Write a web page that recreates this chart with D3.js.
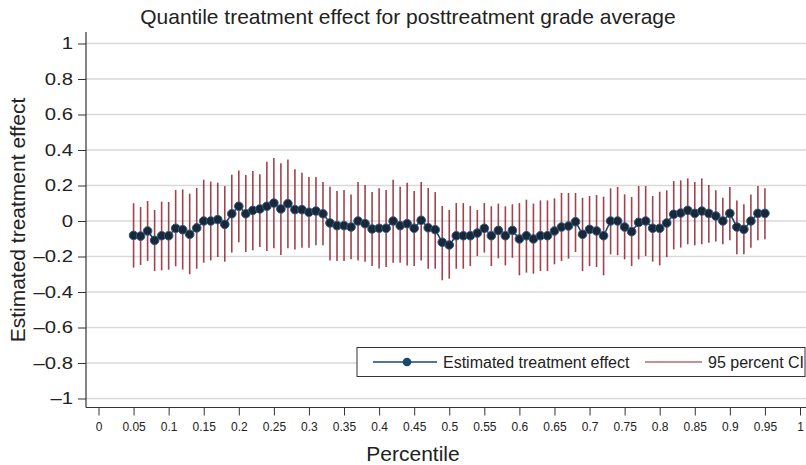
<!DOCTYPE html>
<html>
<head>
<meta charset="utf-8">
<script src="https://cdn.jsdelivr.net/npm/d3@7"></script>
<style>
  body { margin: 0; background: #fff; }
  text { font-family: "Liberation Sans", Arial, sans-serif; fill: #222; }
</style>
</head>
<body>
<div id="chart"></div>
<script>
// percentiles 0.05 .. 0.95
var percentiles = d3.range(5, 96).map(function (d) { return d / 100; });

var estimate = [
  -0.081, -0.085, -0.056, -0.109, -0.083, -0.083, -0.041, -0.049, -0.075, -0.039,
   0.000,  0.000,  0.008, -0.019,  0.041,  0.083,  0.041,  0.060,  0.068,  0.083,
   0.101,  0.068,  0.098,  0.064,  0.064,  0.049,  0.056,  0.041, -0.011, -0.026,
  -0.026, -0.034,  0.000, -0.015, -0.045, -0.041, -0.041,  0.000, -0.026, -0.015,
  -0.041,  0.004, -0.038, -0.049, -0.120, -0.135, -0.083, -0.083, -0.083, -0.068,
  -0.041, -0.083, -0.053, -0.083, -0.053, -0.101, -0.083, -0.101, -0.083, -0.083,
  -0.056, -0.034, -0.028, -0.004, -0.075, -0.047, -0.056, -0.083,  0.000,  0.000,
  -0.034, -0.060, -0.008,  0.000, -0.041, -0.041, -0.011,  0.038,  0.045,  0.060,
   0.043,  0.056,  0.043,  0.028,  0.000,  0.043, -0.034, -0.047,  0.000,  0.043,
   0.043
];

var upper = [
   0.100,  0.079,  0.113,  0.062,  0.109,  0.107,  0.175,  0.178,  0.154,  0.186,
   0.233,  0.222,  0.216,  0.197,  0.261,  0.285,  0.259,  0.282,  0.263,  0.334,
   0.355,  0.325,  0.346,  0.291,  0.272,  0.248,  0.248,  0.220,  0.193,  0.169,
   0.175,  0.150,  0.220,  0.203,  0.163,  0.184,  0.175,  0.233,  0.193,  0.216,
   0.169,  0.220,  0.186,  0.163,  0.085,  0.062,  0.101,  0.101,  0.085,  0.062,
   0.101,  0.083,  0.098,  0.083,  0.094,  0.101,  0.120,  0.098,  0.116,  0.116,
   0.128,  0.158,  0.158,  0.158,  0.131,  0.141,  0.146,  0.137,  0.184,  0.192,
   0.150,  0.135,  0.197,  0.197,  0.141,  0.165,  0.173,  0.225,  0.229,  0.240,
   0.220,  0.240,  0.203,  0.173,  0.131,  0.192,  0.116,  0.094,  0.150,  0.197,
   0.184
];

var lower = [
  -0.263, -0.248, -0.225, -0.282, -0.278, -0.274, -0.255, -0.274, -0.300, -0.269,
  -0.235, -0.222, -0.203, -0.229, -0.178, -0.120, -0.175, -0.165, -0.146, -0.169,
  -0.154, -0.192, -0.154, -0.160, -0.150, -0.150, -0.137, -0.137, -0.222, -0.225,
  -0.225, -0.216, -0.222, -0.229, -0.254, -0.267, -0.259, -0.235, -0.235, -0.250,
  -0.254, -0.222, -0.269, -0.269, -0.334, -0.325, -0.269, -0.269, -0.254, -0.197,
  -0.178, -0.254, -0.210, -0.250, -0.207, -0.306, -0.291, -0.297, -0.282, -0.282,
  -0.244, -0.225, -0.212, -0.175, -0.282, -0.254, -0.259, -0.306, -0.188, -0.193,
  -0.216, -0.254, -0.216, -0.197, -0.229, -0.250, -0.203, -0.160, -0.150, -0.131,
  -0.137, -0.131, -0.122, -0.116, -0.131, -0.109, -0.188, -0.188, -0.150, -0.109,
  -0.103
];

var yTicks = [-1, -0.8, -0.6, -0.4, -0.2, 0, 0.2, 0.4, 0.6, 0.8, 1];
var xTicks = d3.range(0, 21).map(function (d) { return d / 20; });

var width = 806, height = 465;

var svg = d3.select("#chart").append("svg")
    .attr("width", width)
    .attr("height", height);

var x = d3.scaleLinear().domain([0, 1]).range([98.5, 800]);
var y = d3.scaleLinear().domain([-1, 1]).range([398.5, 43.5]);

var axisX = 86, axisY = 407.5;

// gridlines
svg.append("g").selectAll("line")
    .data(yTicks)
    .enter().append("line")
    .attr("x1", axisX).attr("x2", width)
    .attr("y1", function (d) { return y(d); })
    .attr("y2", function (d) { return y(d); })
    .attr("stroke", "#d9d9d9")
    .attr("stroke-width", 1.5);

// en dash for negatives, like the original
var fmt = function (d) {
    var s = d3.format("")(+d.toFixed(1));
    return s.replace("-", "\u2013").replace("\u2212", "\u2013");
};

// y axis (labels are drawn wide, like the original)
var gy = svg.append("g")
    .attr("transform", "translate(" + axisX + ",0)")
    .call(d3.axisLeft(y).tickValues(yTicks).tickSize(8).tickFormat(fmt));
gy.select(".domain").remove();
gy.selectAll("line").attr("stroke", "#333");
gy.selectAll("text")
    .style("font-size", "16px")
    .attr("fill", "#222")
    .attr("x", 0)
    .attr("transform", "translate(-13,0) scale(1.27,1)");

// x axis
var gx = svg.append("g")
    .attr("transform", "translate(0," + axisY + ")")
    .call(d3.axisBottom(x).tickValues(xTicks).tickSize(8).tickPadding(7)
        .tickFormat(function (d) { return d3.format("")(+d.toFixed(2)); }));
gx.select(".domain").remove();
gx.selectAll("line").attr("stroke", "#333");
gx.selectAll("text")
    .style("font-size", "12px")
    .attr("fill", "#222");

// axis lines
svg.append("line").attr("x1", axisX).attr("x2", axisX).attr("y1", 32).attr("y2", axisY)
    .attr("stroke", "#333").attr("stroke-width", 1.2);
svg.append("line").attr("x1", axisX).attr("x2", width).attr("y1", axisY).attr("y2", axisY)
    .attr("stroke", "#333").attr("stroke-width", 1.2);

var data = percentiles.map(function (p, i) {
    return { p: p, est: estimate[i], lo: lower[i], hi: upper[i] };
});

// CI bars
svg.append("g").selectAll("line")
    .data(data)
    .enter().append("line")
    .attr("x1", function (d) { return x(d.p); })
    .attr("x2", function (d) { return x(d.p); })
    .attr("y1", function (d) { return y(d.lo); })
    .attr("y2", function (d) { return y(d.hi); })
    .attr("stroke", "#90222f")
    .attr("stroke-opacity", 0.85)
    .attr("stroke-width", 1.6);

// estimate line
var line = d3.line()
    .x(function (d) { return x(d.p); })
    .y(function (d) { return y(d.est); });

svg.append("path")
    .datum(data)
    .attr("d", line)
    .attr("fill", "none")
    .attr("stroke", "#1a476f")
    .attr("stroke-width", 1.6);

svg.append("g").selectAll("circle")
    .data(data)
    .enter().append("circle")
    .attr("cx", function (d) { return x(d.p); })
    .attr("cy", function (d) { return y(d.est); })
    .attr("r", 4.3)
    .attr("fill", "#1b2735")
    .attr("stroke", "#2b5b8a")
    .attr("stroke-width", 1);

// title and axis labels
svg.append("text")
    .attr("x", 408).attr("y", 24)
    .attr("text-anchor", "middle")
    .style("font-size", "21px")
    .text("Quantile treatment effect for posttreatment grade average");

svg.append("text")
    .attr("transform", "translate(25,220) rotate(-90)")
    .attr("text-anchor", "middle")
    .style("font-size", "21px")
    .text("Estimated treatment effect");

svg.append("text")
    .attr("x", 413).attr("y", 461)
    .attr("text-anchor", "middle")
    .style("font-size", "21px")
    .text("Percentile");

// legend
var lg = svg.append("g");
lg.append("rect")
    .attr("x", 357).attr("y", 347.5)
    .attr("width", 448).attr("height", 29)
    .attr("fill", "#fff")
    .attr("stroke", "#333")
    .attr("stroke-width", 1);
lg.append("line")
    .attr("x1", 373).attr("x2", 437).attr("y1", 362).attr("y2", 362)
    .attr("stroke", "#1a476f").attr("stroke-width", 1.4);
lg.append("circle")
    .attr("cx", 407).attr("cy", 362).attr("r", 4.3)
    .attr("fill", "#1a476f");
lg.append("text")
    .attr("x", 443).attr("y", 367.5)
    .style("font-size", "16px")
    .text("Estimated treatment effect");
lg.append("line")
    .attr("x1", 645).attr("x2", 702).attr("y1", 362).attr("y2", 362)
    .attr("stroke", "#90222f").attr("stroke-width", 1.2);
lg.append("text")
    .attr("x", 708).attr("y", 367.5)
    .style("font-size", "16px")
    .text("95 percent CI");
</script>
</body>
</html>
